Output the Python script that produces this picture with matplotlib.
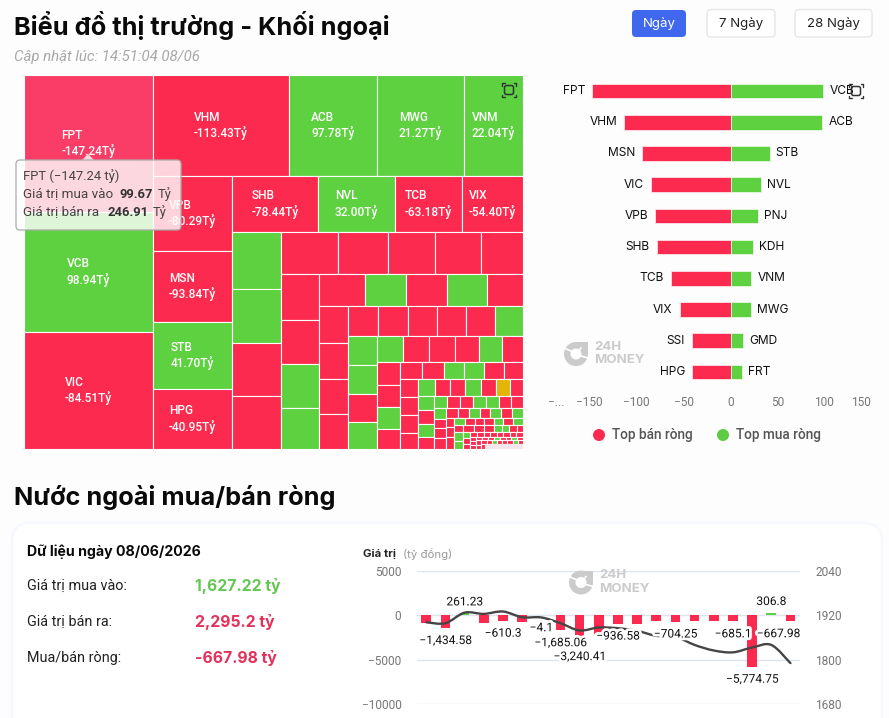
import matplotlib
matplotlib.use('Agg')
import matplotlib.pyplot as plt
import matplotlib.patheffects as pe
from matplotlib.patches import FancyBboxPatch, PathPatch, Polygon, Rectangle, Wedge
from matplotlib.path import Path

WIDTH = 889
HEIGHT = 718

RED = '#FB2A4E'
RED_HOVER = '#F93D66'
GREEN = '#5DD13F'
GOLD = '#E3B505'
PALE = '#F3E7EB'
GRAY_TEXT = '#777777'

# treemap cell sizes, one inner list per strip
treemap_sizes = [
	[17673, 15480, 15093],
	[13736, 8888, 8787, 5959],
	[5925, 5609, 5293, 4740],
	[4816, 4312, 3752, 3416],
	[2793, 2646, 2597, 2597],
	[2394, 2100, 1974, 1932, 1764],
	[1748, 1672, 1672, 1558],
	[1472, 1312, 1312, 1280, 1152],
	[1073, 1044, 1015, 1015],
	[900, 900, 870, 870, 870, 840],
	[841, 841, 812, 783],
	[676, 676, 676, 624, 598, 546],
	[506, 484, 484, 440],
	[391, 374, 340, 340, 340, 323],
	[324, 324, 324, 288],
	[272, 256, 240, 256, 240, 224, 208],
	[240, 216, 216, 192],
	[156, 156, 168, 156, 156, 144, 144],
	[132, 120, 120, 132],
	[120, 110, 110, 100, 110, 110, 110],
	[80, 80, 96],
	[80, 72, 72, 72, 72, 76, 72],
	[66, 76, 76],
	[70, 70, 63, 56, 49, 49, 42],
	[42, 42, 35],
	[30, 30, 30, 30, 30, 30, 30, 30],
	[27, 24, 24],
	[23, 23, 23, 23, 23, 23, 23, 23],
	[22, 20],
	[21, 21, 21, 21, 21, 21, 21, 21],
	[16],
	[172],
]

treemap_names = [
	['FPT', 'VCB', 'VIC'],
	['VHM', 'ACB', 'MWG', 'VNM'],
	['VPB', 'MSN', 'STB', 'HPG'],
	['SHB', 'NVL', 'TCB', 'VIX'],
]
treemap_net = [
	[-147.24, 98.94, -84.51],
	[-113.43, 97.78, 21.27, 22.04],
	[-80.29, -93.84, 41.70, -40.95],
	[-78.44, 32.00, -63.18, -54.40],
]
# unlabelled cells: 1 up, -1 down, 0 flat, None no trade
small_trends = [
	[1, 1, -1, -1],
	[-1, -1, -1, -1, -1],
	[-1, -1, 1, 1],
	[-1, 1, -1, 1, -1],
	[-1, -1, -1, -1],
	[-1, -1, -1, -1, -1, 1],
	[1, 1, -1, 1],
	[1, -1, -1, -1, 1, -1],
	[-1, -1, 1, -1],
	[-1, -1, 1, 1, -1, -1],
	[-1, -1, -1, -1],
	[1, -1, -1, 1, -1, 0, -1],
	[1, -1, 1, -1],
	[1, -1, -1, 1, 1, -1, -1],
	[1, -1, -1, -1],
	[-1, -1, 1, -1, 1, -1, 1],
	[-1, -1, -1],
	[1, -1, -1, -1, 1, -1, 1],
	[-1, 1, 1],
	[-1, -1, -1, 1, 1, -1, -1],
	[1, -1, -1],
	[-1, -1, -1, -1, -1, -1, -1, -1],
	[-1, -1, -1],
	[-1, -1, -1, 1, -1, -1, 1, -1],
	[-1, -1],
	[-1, -1, 1, -1, -1, -1, 1, -1],
	[-1],
	[None],
]

sell_names = ['FPT', 'VHM', 'MSN', 'VIC', 'VPB', 'SHB', 'TCB', 'VIX', 'SSI', 'HPG']
sell_values = [-147.24, -113.43, -93.84, -84.51, -80.29, -78.44, -63.18, -54.40, -41.5, -40.95]
buy_names = ['VCB', 'ACB', 'STB', 'NVL', 'PNJ', 'KDH', 'VNM', 'MWG', 'GMD', 'FRT']
buy_values = [98.94, 97.78, 41.70, 32.00, 29.6, 24.0, 22.04, 21.27, 13.5, 11.7]
top_tick_values = [-186, -150, -100, -50, 0, 50, 100, 139]
top_tick_labels = ['−...', '−150', '−100', '−50', '0', '50', '100', '150']

summary_labels = ['Giá trị mua vào:', 'Giá trị bán ra:', 'Mua/bán ròng:']
summary_values = ['1,627.22 tỷ', '2,295.2 tỷ', '-667.98 tỷ']

flow_dates = ['12/05', '13/05', '14/05', '15/05', '18/05', '19/05', '20/05', '21/05', '22/05', '25/05',
	'26/05', '27/05', '28/05', '29/05', '01/06', '02/06', '03/06', '04/06', '05/06', '08/06']
flow_net = [-895, -1434.58, 261.23, -820, -610.3, -800, -4.1, -1685.06, -3240.41, -2100,
	-936.58, -970, -700, -704.25, -700, -600, -685.1, -5774.75, 306.8, -667.98]
flow_labelled = [1, 2, 4, 6, 7, 8, 10, 13, 16, 17, 18, 19]
vnindex_close = [1901, 1898.5, 1927, 1923.6, 1930, 1914.6, 1914, 1898.5, 1879, 1887,
	1885, 1878, 1864.5, 1862, 1840, 1825, 1820, 1833, 1840, 1791]
flow_ticks = [5000, 0, -5000, -10000]
index_ticks = [2040, 1920, 1800, 1680]


def px_axes(fig, x0, y0, x1, y1):
	return fig.add_axes([x0 / WIDTH, 1 - y1 / HEIGHT, (x1 - x0) / WIDTH, (y1 - y0) / HEIGHT])


def page_axes(fig):
	ax = px_axes(fig, 0, 0, WIDTH, HEIGHT)
	ax.set_xlim(0, WIDTH)
	ax.set_ylim(HEIGHT, 0)
	ax.axis('off')
	ax.patch.set_alpha(0)
	return ax


def rounded(ax, x0, y0, x1, y1, radius, **kwargs):
	box = FancyBboxPatch((x0 + radius, y0 + radius), x1 - x0 - 2 * radius, y1 - y0 - 2 * radius,
		boxstyle=f'round,pad={radius},rounding_size={radius}', **kwargs)
	ax.add_patch(box)


def draw_background(ax):
	font = ['Roboto', 'DejaVu Sans']
	ax.text(14, 25, 'Biểu đồ thị trường - Khối ngoại', fontsize=18.25, fontweight='bold', color='#0A0A0A', va='center')
	ax.text(14, 57, 'Cập nhật lúc: 14:51:04 08/06', fontsize=10.8, style='italic', color='#A8A8A8', va='center',
		family=font)

	rounded(ax, 632, 10, 686, 37, 4, facecolor='#3F68EE', edgecolor='none')
	ax.text(659, 24, 'Ngày', fontsize=9.5, color='white', ha='center', va='center')
	rounded(ax, 707, 9.5, 775, 37, 4, facecolor='white', edgecolor='#E6E6E6', linewidth=1)
	ax.text(741, 24, '7 Ngày', fontsize=9.5, color='#222222', ha='center', va='center')
	rounded(ax, 795, 9.5, 872, 37, 4, facecolor='white', edgecolor='#E6E6E6', linewidth=1)
	ax.text(833.5, 24, '28 Ngày', fontsize=9.5, color='#222222', ha='center', va='center')

	ax.text(14, 498, 'Nước ngoài mua/bán ròng', fontsize=18.25, fontweight='bold', color='#0A0A0A', va='center')
	rounded(ax, 12, 523, 882, 760, 18, facecolor='white', edgecolor='#F5F8FC', linewidth=2)

	ax.text(27, 552, 'Dữ liệu ngày 08/06/2026', fontsize=10.2, fontweight='bold', color='#0A0A0A', va='center')
	colors = ['#63C752', '#E5305A', '#E5305A']
	for i in range(3):
		y = 586 + 36 * i
		ax.text(27, y, summary_labels[i], fontsize=10.4, color='#222222', va='center', family=font)
		ax.text(195, y, summary_values[i], fontsize=11.3, fontweight='bold', color=colors[i], va='center')

	ax.text(363, 554, 'Giá trị', fontsize=8.2, fontweight='bold', color='#222222', va='center')
	ax.text(403, 554, '(tỷ đồng)', fontsize=8.2, color='#999999', va='center')

	ax.scatter([599, 723], [435, 435], s=75, c=[RED, '#5DCB45'], linewidths=0)
	ax.text(612, 435, 'Top bán ròng', fontsize=9.8, fontweight='medium', color='#555555', va='center', family=font)
	ax.text(736, 435, 'Top mua ròng', fontsize=9.8, fontweight='medium', color='#555555', va='center', family=font)


def draw_treemap(ax):
	ax.set_xlim(0, 1)
	ax.set_ylim(1, 0)
	ax.axis('off')

	remaining = sum(sum(strip) for strip in treemap_sizes)
	x0, y0 = 0.0, 0.0
	w, h = 1.0, 1.0
	vertical = True
	for s, strip in enumerate(treemap_sizes):
		total = sum(strip)
		share = total / remaining
		thick = (w if vertical else h) * share
		pos = y0 if vertical else x0
		along = h if vertical else w
		for c, size in enumerate(strip):
			step = along * size / total
			if vertical:
				cell = (x0, pos, thick, step)
			else:
				cell = (pos, y0, step, thick)
			pos += step
			if s < len(treemap_names):
				net = treemap_net[s][c]
				color = GREEN if net > 0 else RED
				if s == 0 and c == 0:
					color = RED_HOVER
			else:
				trend = small_trends[s - len(treemap_names)][c]
				color = {1: GREEN, -1: RED, 0: GOLD, None: PALE}[trend]
			edge = PALE if color == PALE else 'white'
			ax.add_patch(Rectangle(cell[:2], cell[2], cell[3], facecolor=color, edgecolor=edge, linewidth=0.8))
			if s < len(treemap_names):
				ax.text(cell[0] + cell[2] / 2, cell[1] + cell[3] / 2, f'{treemap_names[s][c]}\n{net:.2f}Tỷ',
					color='white', fontsize=8.6, ha='center', va='center', ma='left', linespacing=1.2,
					family=['Roboto', 'DejaVu Sans'], fontweight='medium')
		if vertical:
			x0 += thick
			w -= thick
		else:
			y0 += thick
			h -= thick
		remaining -= total
		vertical = not vertical


def draw_top_bars(ax):
	rows = list(range(len(sell_names)))
	ax.barh(rows, sell_values, height=0.47, color=RED, edgecolor='#FFE3E8', linewidth=0.6)
	ax.barh(rows, buy_values, height=0.47, color=GREEN, edgecolor='#E6F8E0', linewidth=0.6)
	for i in rows:
		ax.text(sell_values[i] - 7.5, i, sell_names[i], ha='right', va='center', fontsize=8.6, color='#111111')
		ax.text(buy_values[i] + 6.5, i, buy_names[i], ha='left', va='center', fontsize=8.6, color='#111111')
	ax.set_xlim(top_tick_values[0], top_tick_values[-1])
	ax.set_ylim(len(rows) - 0.5, -0.5)
	ax.set_xticks(top_tick_values)
	ax.set_xticklabels(top_tick_labels, fontsize=8.6, color=GRAY_TEXT, family=['Roboto', 'DejaVu Sans'])
	ax.set_yticks([])
	ax.tick_params(axis='x', length=0, pad=6)
	for spine in ax.spines.values():
		spine.set_visible(False)
	ax.patch.set_alpha(0)


def smooth_path(xs, ys):
	# Catmull-Rom style bezier through the closes
	verts = [(xs[0], ys[0])]
	codes = [Path.MOVETO]
	n = len(xs)
	for i in range(n - 1):
		a = max(i - 1, 0)
		b = min(i + 2, n - 1)
		verts.append((xs[i] + (xs[i + 1] - xs[a]) / 6, ys[i] + (ys[i + 1] - ys[a]) / 6))
		verts.append((xs[i + 1] - (xs[b] - xs[i]) / 6, ys[i + 1] - (ys[b] - ys[i]) / 6))
		verts.append((xs[i + 1], ys[i + 1]))
		codes += [Path.CURVE4, Path.CURVE4, Path.CURVE4]
	return Path(verts, codes)


def draw_flow_chart(ax):
	positions = list(range(len(flow_net)))
	colors = [GREEN if v > 0 else RED for v in flow_net]
	ax.bar(positions, flow_net, width=0.5, color=colors, zorder=2)
	ax.set_xlim(-0.5, len(flow_net) - 0.5)
	ax.set_ylim(flow_ticks[-1], flow_ticks[0])
	ax.set_yticks(flow_ticks)
	ax.set_yticklabels([str(t).replace('-', '−') for t in flow_ticks], fontsize=8.6, color=GRAY_TEXT,
		family=['Roboto', 'DejaVu Sans'])
	ax.grid(axis='y', color='#DFE5EC', linewidth=1, zorder=0)
	ax.set_axisbelow(True)
	ax.set_xticks(positions)
	ax.set_xticklabels(flow_dates, rotation=45, ha='right', rotation_mode='anchor', fontsize=8.6, color=GRAY_TEXT)
	ax.tick_params(axis='y', length=0, pad=11)
	ax.tick_params(axis='x', length=0, pad=10)
	for spine in ax.spines.values():
		spine.set_visible(False)
	ax.patch.set_alpha(0)

	twin = ax.twinx()
	twin.set_ylim(index_ticks[-1], index_ticks[0])
	twin.set_yticks(index_ticks)
	twin.set_yticklabels([str(t) for t in index_ticks], fontsize=8.6, color=GRAY_TEXT,
		family=['Roboto', 'DejaVu Sans'])
	twin.tick_params(axis='y', length=0, pad=11)
	for spine in twin.spines.values():
		spine.set_visible(False)
	twin.add_patch(PathPatch(smooth_path(positions, vnindex_close), facecolor='none', edgecolor='#454545',
		linewidth=1.7, capstyle='round', zorder=3))

	# value labels sit on top of the line, on their own transparent layer
	top = ax.figure.add_axes(ax.get_position(), sharex=ax, sharey=ax)
	top.axis('off')
	top.patch.set_alpha(0)
	for i in flow_labelled:
		value = flow_net[i]
		text = f'{value:,.2f}'.rstrip('0').replace('-', '−')
		dx = -12 * 0.72 if i == len(flow_net) - 1 else 0
		dy = 11 * 0.72 if value > 0 else -12.5 * 0.72
		top.annotate(text, xy=(i, value), xytext=(dx, dy), textcoords='offset points', ha='center', va='center',
			fontsize=8.6, color='#111111', family=['Roboto', 'DejaVu Sans'], annotation_clip=False,
			path_effects=[pe.withStroke(linewidth=4, foreground='white')])


def draw_focus_icon(ax, cx, cy):
	dark = '#333333'
	rounded(ax, cx - 4.5, cy - 4.5, cx + 4.5, cy + 4.5, 2, facecolor='none', edgecolor=dark, linewidth=1.1)
	r = 7
	for sx in (-1, 1):
		for sy in (-1, 1):
			ax.plot([cx + sx * r, cx + sx * r, cx + sx * (r - 2.5)], [cy + sy * (r - 2.5), cy + sy * r, cy + sy * r],
				color=dark, linewidth=1, solid_capstyle='round')


def draw_watermark(ax, cx, cy):
	gray = '#CBCBCB'
	ax.add_patch(Wedge((cx, cy), 12, 0, 360, width=6.5, facecolor=gray, edgecolor='none'))
	ax.add_patch(Polygon([(cx + 1, cy - 12), (cx + 12, cy - 12), (cx + 12, cy - 1)], closed=True, facecolor=gray, edgecolor='none'))
	# needle and the two cuts through the ring
	ax.plot([cx - 2, cx + 5], [cy + 3, cy - 6], color='white', linewidth=1.2)
	ax.plot([cx - 12, cx - 5], [cy - 6, cy - 3], color='white', linewidth=1.2)
	ax.plot([cx + 5, cx + 12], [cy + 2, cy + 4], color='white', linewidth=1.2)
	ax.text(cx + 18.5, cy - 7, '24H', fontsize=9.5, fontweight='bold', color=gray, va='center')
	ax.text(cx + 18.5, cy + 6, 'MONEY', fontsize=9.5, fontweight='bold', color=gray, va='center')


def draw_tooltip(ax):
	ax.add_patch(Polygon([(82, 160), (88, 154), (94, 160)], closed=True, facecolor='white', edgecolor='none', alpha=0.8))
	rounded(ax, 16, 160, 181, 230, 4, facecolor=(1, 1, 1, 0.8), edgecolor='#ABABAB', linewidth=0.9)
	dark = '#444444'
	font = ['Roboto', 'DejaVu Sans']
	ax.text(23, 176, 'FPT (−147.24 tỷ)', fontsize=9.4, color=dark, va='center', family=font)
	ax.text(23, 194, 'Giá trị mua vào', fontsize=9.7, color=dark, va='center', family=font)
	ax.text(119, 194, '99.67', fontsize=9.4, fontweight='bold', color='#333333', va='center', family=font)
	ax.text(158, 194, 'Tỷ', fontsize=9.4, color=dark, va='center', family=font)
	ax.text(23, 212, 'Giá trị bán ra', fontsize=9.7, color=dark, va='center', family=font)
	ax.text(107, 212, '246.91', fontsize=9.4, fontweight='bold', color='#333333', va='center', family=font)
	ax.text(153, 212, 'Tỷ', fontsize=9.4, color=dark, va='center', family=font)


def main():
	plt.rcParams['font.family'] = ['Inter', 'Roboto', 'DejaVu Sans']
	fig = plt.figure(figsize=(WIDTH / 100, HEIGHT / 100), dpi=100, facecolor='#FDFDFE')

	draw_background(page_axes(fig))
	draw_treemap(px_axes(fig, 24, 75, 523, 449))
	draw_top_bars(px_axes(fig, 556, 75.4, 861, 387.6))
	draw_flow_chart(px_axes(fig, 416.7, 570.7, 800, 704.3))

	overlay = page_axes(fig)
	draw_tooltip(overlay)
	draw_focus_icon(overlay, 509, 90)
	draw_focus_icon(overlay, 856, 91)
	draw_watermark(overlay, 576, 354)
	draw_watermark(overlay, 581, 582.5)

	fig.savefig('out.png', dpi=100, facecolor=fig.get_facecolor())


if __name__ == '__main__':
	main()
